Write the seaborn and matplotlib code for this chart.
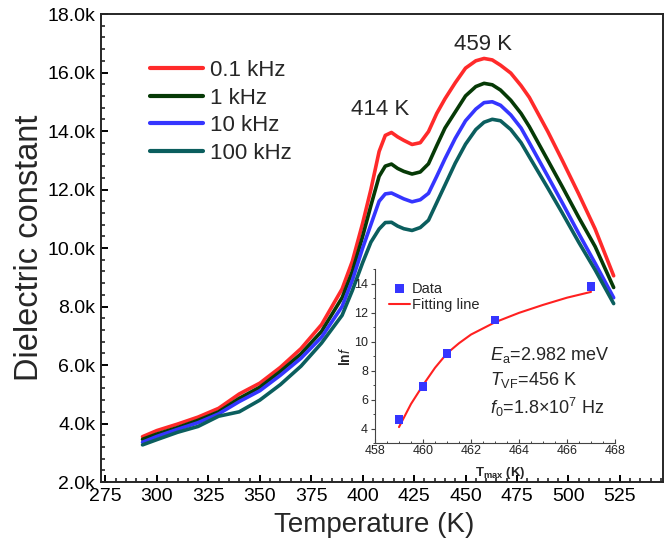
import numpy as np
import pandas as pd
import seaborn as sns
import matplotlib
matplotlib.use('Agg')
import matplotlib.pyplot as plt
from matplotlib.ticker import MultipleLocator, FuncFormatter

# temperature grid (K) and dielectric constant per frequency
temp = [293, 300, 310, 320, 330, 340, 350, 360, 370, 380, 390, 395, 400, 404, 408,
        411, 414, 417, 420, 424, 428, 432, 436, 440, 445, 450, 455, 459, 463, 467,
        472, 477, 481, 490, 497, 505, 513, 522]
eps_01k = [3550, 3760, 3980, 4220, 4520, 5010, 5380, 5920, 6560, 7380, 8600, 9550, 10850, 12000, 13300,
           13850, 13950, 13800, 13680, 13540, 13600, 13980, 14600, 15100, 15650, 16150, 16400, 16480, 16430, 16250,
           15980, 15550, 15150, 13980, 13000, 11850, 10650, 9050]
eps_1k = [3460, 3640, 3860, 4110, 4400, 4860, 5240, 5780, 6380, 7150, 8300, 9200, 10400, 11450, 12450,
          12800, 12870, 12720, 12620, 12530, 12600, 12880, 13500, 14100, 14650, 15200, 15520, 15630, 15580, 15400,
          15050, 14600, 14150, 13000, 12100, 11050, 10050, 8650]
eps_10k = [3360, 3560, 3800, 4030, 4330, 4750, 5120, 5650, 6230, 6950, 8000, 8900, 10000, 10800, 11600,
           11850, 11880, 11780, 11680, 11580, 11650, 11870, 12450, 13050, 13750, 14350, 14750, 14970, 15000, 14880,
           14550, 14100, 13600, 12450, 11550, 10500, 9480, 8300]
eps_100k = [3270, 3450, 3700, 3900, 4250, 4400, 4800, 5330, 5960, 6750, 7700, 8550, 9500, 10200, 10650,
            10870, 10880, 10750, 10660, 10600, 10700, 10950, 11550, 12150, 12900, 13550, 14050, 14300, 14400, 14350,
            14050, 13600, 13120, 12050, 11200, 10200, 9250, 8100]
freq_labels = ['0.1 kHz', '1 kHz', '10 kHz', '100 kHz']

# inset: Vogel-Fulcher plot
tmax = [459, 460, 461, 463, 467]
lnf = [4.6, 6.9, 9.2, 11.5, 13.8]
fit_t = [459, 459.5, 460, 460.5, 461, 461.5, 462, 463, 464, 465, 466, 467]
fit_lnf = [4.1, 5.7, 7.0, 8.2, 9.2, 9.9, 10.5, 11.35, 12.0, 12.55, 13.05, 13.45]

sns.set_style('ticks')
plt.rcParams['font.family'] = ['Liberation Sans', 'DejaVu Sans']
plt.rcParams['mathtext.fontset'] = 'custom'
plt.rcParams['mathtext.rm'] = 'Liberation Sans'
plt.rcParams['mathtext.it'] = 'Liberation Sans:italic'
plt.rcParams['mathtext.bf'] = 'Liberation Sans:bold'

df = pd.DataFrame({
    'T': temp * 4,
    'eps': eps_01k + eps_1k + eps_10k + eps_100k,
    'freq': [f for f in freq_labels for _ in temp],
})
colors = {'0.1 kHz': '#FF2A2A', '1 kHz': '#063A06', '10 kHz': '#3535FF', '100 kHz': '#0B5E5E'}

fig = plt.figure(figsize=(6.7, 5.43), dpi=100)
ax = fig.add_axes([0.1507, 0.1123, 0.8389, 0.8619])
sns.lineplot(data=df, x='T', y='eps', hue='freq', palette=colors, linewidth=2.6, ax=ax)

ax.set_xlim(272.8, 546)
ax.set_ylim(2000, 18000)
ax.xaxis.set_major_locator(MultipleLocator(25))
ax.xaxis.set_minor_locator(MultipleLocator(5))
ax.yaxis.set_major_locator(MultipleLocator(2000))
ax.yaxis.set_minor_locator(MultipleLocator(400))
ax.yaxis.set_major_formatter(FuncFormatter(lambda v, p: f'{v/1000:.1f}k'))
ax.tick_params(which='major', direction='in', length=5, width=1.4, labelsize=14, colors='black', pad=4)
ax.tick_params(which='minor', direction='in', length=2.6, width=1.2)
for s in ax.spines.values():
    s.set_linewidth(1.4)
ax.set_xlabel('Temperature (K)', fontsize=20, labelpad=1)
ax.xaxis.set_label_coords(0.486, -0.065)
ax.set_ylabel('Dielectric constant', fontsize=23.5, labelpad=2)

leg = ax.legend(loc='upper left', bbox_to_anchor=(0.087, 0.902), frameon=False, fontsize=16,
                handlelength=2.4, handletextpad=0.3, labelspacing=0.3, borderpad=0, borderaxespad=0)
for h in leg.get_lines():
    h.set_linewidth(3)

ax.text(408.7, 14752, '414 K', fontsize=16, ha='center', va='center')
ax.text(458.7, 16974, '459 K', fontsize=16, ha='center', va='center')

# inset
axin = fig.add_axes([0.5597, 0.1842, 0.3582, 0.3195])
axin.set_facecolor('none')
sns.scatterplot(x=tmax, y=lnf, marker='s', s=40, color='#3535FF', edgecolor='none', ax=axin, label='Data', zorder=3)
sns.lineplot(x=fit_t, y=fit_lnf, color='#FF2020', linewidth=1.5, ax=axin, label='Fitting line')
axin.set_xlim(458, 468)
axin.set_ylim(3, 15)
axin.xaxis.set_major_locator(MultipleLocator(2))
axin.xaxis.set_minor_locator(MultipleLocator(0.5))
axin.yaxis.set_major_locator(MultipleLocator(2))
axin.yaxis.set_minor_locator(MultipleLocator(1))
axin.spines['top'].set_visible(False)
axin.spines['right'].set_visible(False)
for s in ['left', 'bottom']:
    axin.spines[s].set_color('#444444')
    axin.spines[s].set_linewidth(0.8)
axin.tick_params(axis='y', which='both', direction='out', colors='#444444', labelsize=9, pad=2)
axin.tick_params(axis='x', which='both', direction='in', colors='#444444', labelsize=9, pad=1.5)
axin.tick_params(which='major', length=3, width=0.8)
axin.tick_params(which='minor', length=1.6, width=0.7)
for lab in axin.get_xticklabels() + axin.get_yticklabels():
    lab.set_color('#222222')
axin.set_xlabel(r'$\mathbf{T}_{\mathbf{max}}$ (K)', fontsize=9.5, fontweight='bold')
axin.xaxis.set_label_coords(0.52, -0.125)
axin.set_ylabel(r'ln$\mathit{f}$', fontsize=10, fontweight='bold', labelpad=1)
axin.legend(loc='upper left', bbox_to_anchor=(0.06, 0.93), frameon=False, fontsize=10.5,
            handlelength=1.4, handletextpad=0.15, labelspacing=0.15, borderpad=0, borderaxespad=0,
            markerscale=1.0)

axin.text(462.8, 9.07, r'$E_{\mathrm{a}}$=2.982 meV', fontsize=13, va='center')
axin.text(462.8, 7.34, r'$T_{\mathrm{VF}}$=456 K', fontsize=13, va='center')
axin.text(462.8, 5.48, r'$f_0$=1.8×10$^7$ Hz', fontsize=13, va='center')

fig.savefig('out.png', dpi=100)
